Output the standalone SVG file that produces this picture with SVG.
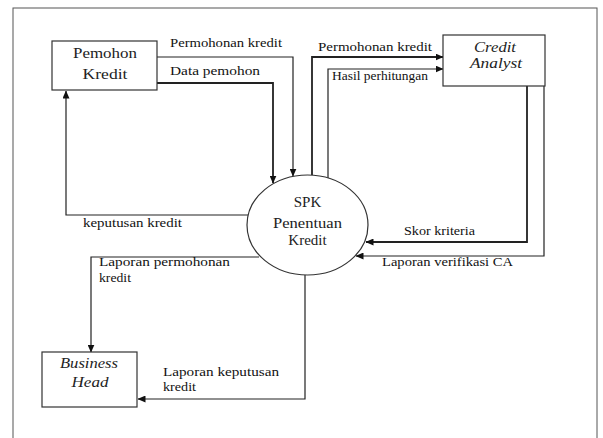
<svg xmlns="http://www.w3.org/2000/svg" width="603" height="438" viewBox="0 0 603 438">
<style>
.frame{fill:none;stroke:#555;stroke-width:1}
.box{fill:#fff;stroke:#333;stroke-width:1.2}
.conn{fill:none;stroke:#222;stroke-width:1.2}
.thick{stroke-width:1.8}
.nt{font-family:'Liberation Serif','DejaVu Serif','Times New Roman',serif;font-size:15px;fill:#222;text-anchor:middle}
.it{font-style:italic}
.lb{font-family:'Liberation Serif','DejaVu Serif','Times New Roman',serif;font-size:12px;fill:#111}
</style>
<defs>
<marker id="ah" markerWidth="8" markerHeight="7" refX="7.5" refY="3.5" orient="auto" markerUnits="userSpaceOnUse">
<path d="M0,0 L8,3.5 L0,7 z" fill="#111"/>
</marker>
</defs>
<rect width="603" height="438" fill="#fff"/>
<rect class="frame" x="13" y="8" width="584" height="440"/>

<g id="connectors">
<path class="conn" d="M157,57 H293 V176" marker-end="url(#ah)"/>
<path class="conn thick" d="M157,83 H273 V183" marker-end="url(#ah)"/>
<path class="conn" d="M248,215 H66 V91" marker-end="url(#ah)"/>
<path class="conn thick" d="M312,175 V57 H443" marker-end="url(#ah)"/>
<path class="conn" d="M328,178 V69 H443" marker-end="url(#ah)"/>
<path class="conn thick" d="M527,86 V242 H366" marker-end="url(#ah)"/>
<path class="conn" d="M544,86 V256 H356" marker-end="url(#ah)"/>
<path class="conn" d="M259,257 H91 V352" marker-end="url(#ah)"/>
<path class="conn" d="M305,275 V399 H138" marker-end="url(#ah)"/>
</g>

<g id="labels">
<text class="lb" font-family="Liberation Serif, serif" x="170" y="47" textLength="112" lengthAdjust="spacingAndGlyphs">Permohonan kredit</text>
<text class="lb" font-family="Liberation Serif, serif" x="170" y="75" textLength="90" lengthAdjust="spacingAndGlyphs">Data pemohon</text>
<text class="lb" font-family="Liberation Serif, serif" x="83" y="227" textLength="99" lengthAdjust="spacingAndGlyphs">keputusan kredit</text>
<text class="lb" font-family="Liberation Serif, serif" x="318" y="51" textLength="114" lengthAdjust="spacingAndGlyphs">Permohonan kredit</text>
<text class="lb" font-family="Liberation Serif, serif" x="332" y="80" textLength="96" lengthAdjust="spacingAndGlyphs">Hasil perhitungan</text>
<text class="lb" font-family="Liberation Serif, serif" x="404" y="235" textLength="71" lengthAdjust="spacingAndGlyphs">Skor kriteria</text>
<text class="lb" font-family="Liberation Serif, serif" x="382" y="266" textLength="131" lengthAdjust="spacingAndGlyphs">Laporan verifikasi CA</text>
<text class="lb" font-family="Liberation Serif, serif" x="99" y="266" textLength="131" lengthAdjust="spacingAndGlyphs">Laporan permohonan</text>
<text class="lb" font-family="Liberation Serif, serif" x="99" y="282" textLength="32" lengthAdjust="spacingAndGlyphs">kredit</text>
<text class="lb" font-family="Liberation Serif, serif" x="163" y="376" textLength="116" lengthAdjust="spacingAndGlyphs">Laporan keputusan</text>
<text class="lb" font-family="Liberation Serif, serif" x="163" y="391" textLength="33" lengthAdjust="spacingAndGlyphs">kredit</text>
</g>

<g id="pemohon-kredit">
<rect class="box" x="52" y="41" width="105" height="49"/>
<text class="nt" x="105" y="58" textLength="64" lengthAdjust="spacingAndGlyphs">Pemohon</text>
<text class="nt" x="105" y="79" textLength="45" lengthAdjust="spacingAndGlyphs">Kredit</text>
</g>

<g id="spk">
<ellipse cx="307.5" cy="225" rx="60.5" ry="50" fill="#fff" stroke="#333" stroke-width="1.2"/>
<text class="nt" x="307.5" y="207">SPK</text>
<text class="nt" x="307.5" y="228" textLength="69" lengthAdjust="spacingAndGlyphs">Penentuan</text>
<text class="nt" x="307.5" y="245">Kredit</text>
</g>

<g id="credit-analyst">
<rect class="box" x="443" y="35" width="102" height="51"/>
<text class="nt it" x="495" y="52" textLength="42" lengthAdjust="spacingAndGlyphs">Credit</text>
<text class="nt it" x="496" y="68" textLength="52" lengthAdjust="spacingAndGlyphs">Analyst</text>
</g>

<g id="business-head">
<rect class="box" x="42" y="352" width="95" height="55"/>
<text class="nt it" x="89" y="368" textLength="58" lengthAdjust="spacingAndGlyphs">Business</text>
<text class="nt it" x="90" y="387" textLength="37" lengthAdjust="spacingAndGlyphs">Head</text>
</g>
</svg>
